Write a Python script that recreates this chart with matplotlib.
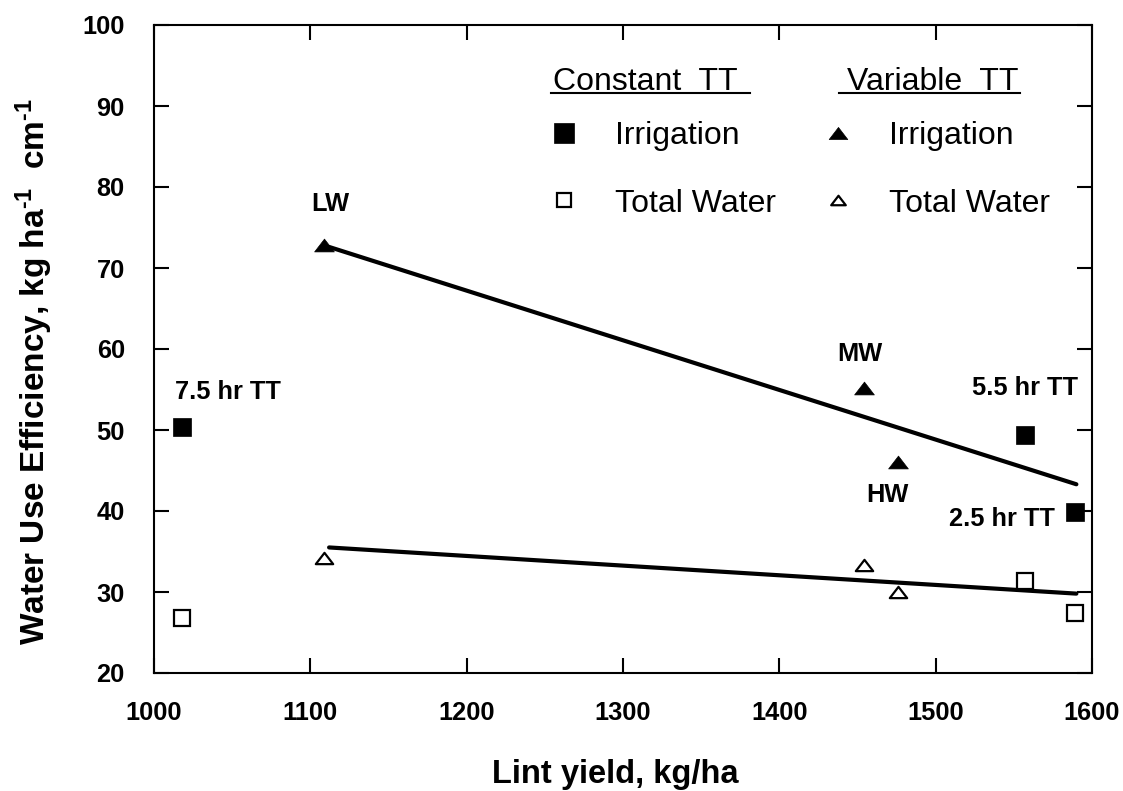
import matplotlib
matplotlib.use('Agg')
import matplotlib.pyplot as plt
from matplotlib.lines import Line2D
from matplotlib.path import Path

plt.rcParams['font.family'] = ['Liberation Sans', 'DejaVu Sans']
plt.rcParams['mathtext.fontset'] = 'custom'
plt.rcParams['mathtext.rm'] = 'Liberation Sans:bold'
plt.rcParams['mathtext.default'] = 'regular'

# Constant TT treatments (7.5, 5.5, 2.5 hr)
const_labels = ['7.5 hr TT', '5.5 hr TT', '2.5 hr TT']
const_yield = [1018, 1557, 1589]
const_irr = [50.4, 49.4, 39.9]
const_total = [26.8, 31.4, 27.4]

# Variable TT treatments
var_labels = ['LW', 'MW', 'HW']
var_yield = [1109, 1454, 1476]
var_irr = [72.8, 55.2, 46.1]
var_total = [34.2, 33.3, 30.0]

# regression lines
trend_x = [1112, 1590]
trend_irr = [72.6, 43.3]
trend_total = [35.5, 29.8]

xticks = [1000, 1100, 1200, 1300, 1400, 1500, 1600]
yticks = [20, 30, 40, 50, 60, 70, 80, 90, 100]

# flattened triangle marker
tri = Path([(-1, -0.65), (1, -0.65), (0, 0.65), (-1, -0.65)],
           [Path.MOVETO, Path.LINETO, Path.LINETO, Path.CLOSEPOLY])

fig = plt.figure(figsize=(11.23, 7.91), dpi=100)
ax = fig.add_axes([154 / 1123, 1 - 673 / 791, 938 / 1123, 648 / 791])

ax.plot(trend_x, trend_irr, color='black', lw=3, solid_capstyle='round')
ax.plot(trend_x, trend_total, color='black', lw=3, solid_capstyle='round')

ax.plot(const_yield, const_irr, ls='none', marker='s', ms=13.5, mfc='black', mec='black', mew=0.5)
ax.plot(const_yield, const_total, ls='none', marker='s', ms=11.5, mfc='white', mec='black', mew=1.6)
ax.plot(var_yield, var_irr, ls='none', marker=tri, ms=14.2, mfc='black', mec='black', mew=0.5)
ax.plot(var_yield, var_total, ls='none', marker=tri, ms=12.5, mfc='white', mec='black', mew=1.6)

# point labels, offsets in pixels from the irrigation points
const_off = [(46, 35), (0, 47), (-73, -7)]
var_off = [(6, 41), (-4, 34), (-11, -33)]
for lab, x, y, off in zip(const_labels, const_yield, const_irr, const_off):
    ax.annotate(lab, (x, y), xytext=(off[0] * 0.72, off[1] * 0.72), textcoords='offset points',
                ha='center', va='center', fontsize=18.3, fontweight='bold')
for lab, x, y, off in zip(var_labels, var_yield, var_irr, var_off):
    ax.annotate(lab, (x, y), xytext=(off[0] * 0.72, off[1] * 0.72), textcoords='offset points',
                ha='center', va='center', fontsize=18.3, fontweight='bold')

ax.set_xlim(1000, 1600)
ax.set_ylim(20, 100)
ax.set_xticks(xticks)
ax.set_yticks(yticks)
ax.tick_params(direction='in', length=11, width=1.5, top=True, right=True,
               labelsize=18.3)
ax.tick_params(axis='x', pad=20.5)
ax.tick_params(axis='y', pad=21)
for lab in ax.get_xticklabels() + ax.get_yticklabels():
    lab.set_fontweight('bold')
for sp in ax.spines.values():
    sp.set_linewidth(1.5)

# legend: two groups with underlined headers
h1 = [Line2D([], [], ls='none', marker='s', ms=14.4, mfc='black', mec='black', mew=0.5),
      Line2D([], [], ls='none', marker='s', ms=9.5, mfc='white', mec='black', mew=1.6)]
h2 = [Line2D([], [], ls='none', marker=tri, ms=13.4, mfc='black', mec='black', mew=0.5),
      Line2D([], [], ls='none', marker=tri, ms=10.5, mfc='white', mec='black', mew=1.6)]
leg_kw = dict(frameon=False, fontsize=23, handlelength=1.0, handletextpad=1.1,
              labelspacing=1.16, borderpad=0, borderaxespad=0, numpoints=1, loc='center left')
leg1 = ax.legend(h1, ['Irrigation', 'Total Water'],
                 bbox_to_anchor=((548 - 154) / 938, (673 - 170) / 648), **leg_kw)
ax.add_artist(leg1)
leg2 = ax.legend(h2, ['Irrigation', 'Total Water'],
                 bbox_to_anchor=((822 - 154) / 938, (673 - 170) / 648), **leg_kw)

hy = (673 - 90) / 648
hdr1 = ax.text((553 - 154) / 938, hy, 'Constant  TT', fontsize=23, va='baseline', ha='left',
               transform=ax.transAxes)
hdr2 = ax.text((847 - 154) / 938, hy, 'Variable  TT', fontsize=23, va='baseline', ha='left',
               transform=ax.transAxes)

fig.canvas.draw()
inv = ax.transAxes.inverted()
for hdr, (dl, dr) in zip([hdr1, hdr2], [(-2, 12), (-8, 1)]):
    bb = hdr.get_window_extent()
    ybase = ax.transAxes.transform((0, hy))[1]
    p0 = inv.transform((bb.x0 + dl, ybase - 3))
    p1 = inv.transform((bb.x1 + dr, ybase - 3))
    ax.plot([p0[0], p1[0]], [p0[1], p1[1]], color='black', lw=1.5,
            transform=ax.transAxes, clip_on=False)

fig.text(615 / 1123, 1 - 783 / 791, 'Lint yield, kg/ha', fontsize=23.5, fontweight='bold',
         ha='center', va='baseline')
fig.text(34 / 1123, 1 - 371 / 791,
         'Water Use Efficiency, kg ha$^{\u20101}$  cm$^{\u20101}$',
         fontsize=24, fontweight='bold', rotation=90, ha='center', va='center')

fig.savefig('out.png', dpi=100)
